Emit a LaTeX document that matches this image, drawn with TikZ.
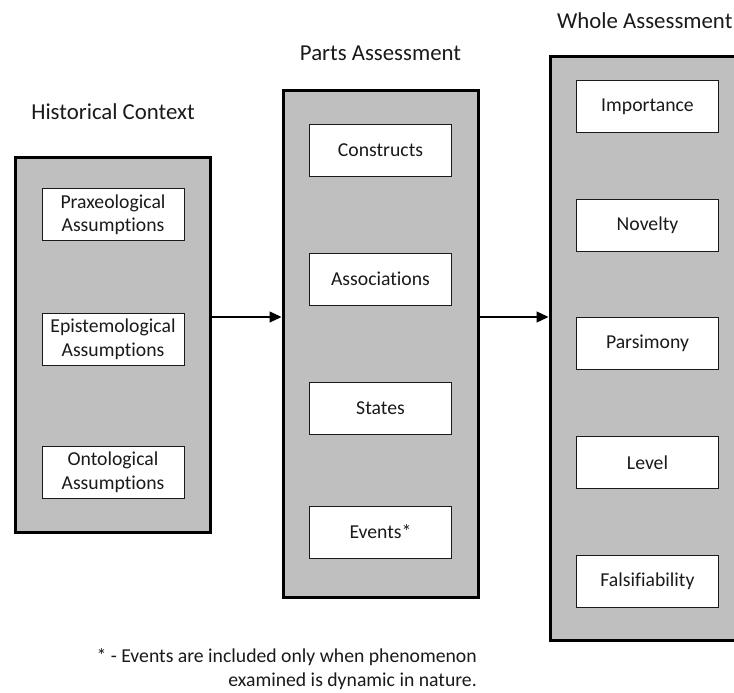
\documentclass[tikz,border=0pt]{standalone}
\usepackage{fontspec}
\setmainfont{Carlito}[Ligatures=NoCommon]
\usetikzlibrary{arrows.meta}

\definecolor{boxgray}{HTML}{BFBFBF}
\definecolor{inkgray}{HTML}{1A1A1A}

\tikzset{
    outerbox/.style={draw=black, fill=boxgray, line width=3pt, minimum width=195pt, inner sep=0pt},
    innerbox/.style={draw=inkgray, fill=white, line width=1pt, minimum width=142pt, minimum height=52pt,
        align=center, inner sep=0pt, text=inkgray},
    heading/.style={text=inkgray, inner sep=0pt, font=\fontsize{22.8}{27}\selectfont},
    footnote/.style={text=inkgray, inner sep=0pt, align=right},
    flowarrow/.style={line width=1.3pt, -{Triangle[length=12pt,width=11pt]}}
}

\begin{document}
\begin{tikzpicture}[x=1pt, y=-1pt, font=\fontsize{19.7}{23.5}\selectfont]
        \clip (0,0) rectangle (734,693);
        \fill[white] (0,0) rectangle (734,693);

        % three frames
        \node[outerbox, minimum height=375pt] (hist) at (113,345) {};
        \node[outerbox, minimum height=507pt] (parts) at (380.5,344) {};
        \node[outerbox, minimum height=584pt] (whole) at (647.5,348.5) {};

        % headings
        \node[heading, anchor=base] (histtitle) at (113,120) {Historical Context};
        \node[heading, anchor=base] (partstitle) at (380.5,61) {Parts Assessment};
        \node[heading, anchor=base west] (wholetitle) at (557,29) {Whole Assessment};

        % historical context
        \node[innerbox] (praxeo) at (113,214.5) {Praxeological\\Assumptions};
        \node[innerbox] (episte) at (113,339) {Epistemological\\Assumptions};
        \node[innerbox] (onto) at (113,472) {Ontological\\Assumptions};

        % parts assessment
        \node[innerbox] (constructs) at (380.5,150) {Constructs};
        \node[innerbox] (assoc) at (380.5,279) {Associations};
        \node[innerbox] (states) at (380.5,408) {States};
        \node[innerbox] (events) at (380.5,532) {Events*};

        % whole assessment
        \node[innerbox] (importance) at (647.5,106.5) {Importance};
        \node[innerbox] (novelty) at (647.5,225.5) {Novelty};
        \node[innerbox] (parsimony) at (647.5,343.5) {Parsimony};
        \node[innerbox] (level) at (647.5,462.5) {Level};
        \node[innerbox] (falsif) at (647.5,581.5) {Falsifiability};

        % arrows
        \coordinate (flow) at (0,317);
        \draw[flowarrow] (hist.east |- flow) -- (parts.west |- flow);
        \draw[flowarrow] (parts.east |- flow) -- (whole.west |- flow);

        % footnote
        \node[footnote, anchor=base east] (note) at (477,686)
            {* - Events are included only when phenomenon\\examined is dynamic in nature.};
    \end{tikzpicture}
\end{document}
